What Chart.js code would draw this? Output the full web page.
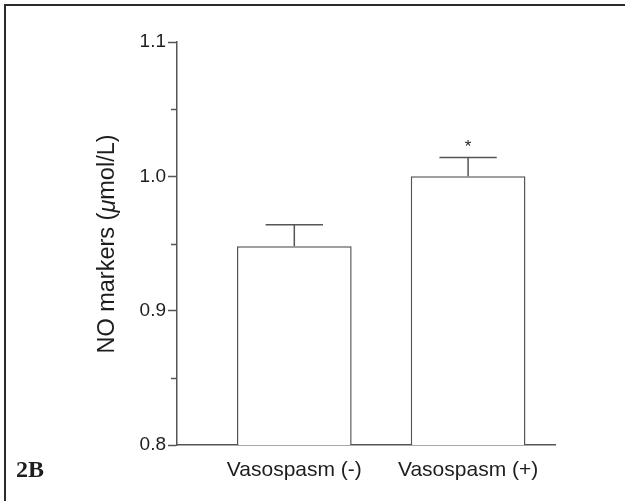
<!DOCTYPE html>
<html>
<head>
<meta charset="utf-8">
<script src="https://cdn.jsdelivr.net/npm/chart.js@4.4.1/dist/chart.umd.min.js"></script>
<style>
  html, body { margin: 0; padding: 0; background: #fff; }
  #wrap { width: 625px; height: 501px; position: relative; }
</style>
</head>
<body>
<div id="wrap"><canvas id="c" width="625" height="501"></canvas></div>
<script>
// Groups, means, error (SEM) and significance markers
const categories = ['Vasospasm (-)', 'Vasospasm (+)'];
const means = [0.948, 1.0];
const errors = [0.016, 0.014];
const significance = ['', '*'];
// Axis ticks
const majorTicks = [0.8, 0.9, 1.0, 1.1];
const minorTicks = [0.85, 0.95, 1.05];
const yTitleParts = [['NO markers (', false], ['\u03bc', true], ['mol/L)', false]];
const panelLabel = '2B';

const ink = '#1e1e1e';
const lineGray = '#555';
const sans = "'Liberation Sans', Arial, sans-serif";

const decorations = {
  id: 'decorations',
  beforeDraw(chart) {
    const ctx = chart.ctx;
    ctx.save();
    ctx.fillStyle = '#fff';
    ctx.fillRect(0, 0, chart.width, chart.height);
    // frame on top and left edges
    ctx.strokeStyle = '#2b2b2b';
    ctx.lineWidth = 2;
    ctx.beginPath();
    ctx.moveTo(chart.width, 5);
    ctx.lineTo(5, 5);
    ctx.lineTo(5, chart.height);
    ctx.stroke();
    ctx.restore();
  },
  afterDraw(chart) {
    const ctx = chart.ctx;
    const y = chart.scales.y;
    ctx.save();
    // minor ticks
    ctx.strokeStyle = lineGray;
    ctx.lineWidth = 1.5;
    minorTicks.forEach(v => {
      const py = Math.round(y.getPixelForValue(v)) + 0.5;
      ctx.beginPath();
      ctx.moveTo(y.right - 6, py);
      ctx.lineTo(y.right, py);
      ctx.stroke();
    });
    // y-axis title with italic mu
    const size = 23.5;
    ctx.fillStyle = ink;
    ctx.textBaseline = 'middle';
    const widths = yTitleParts.map(([t, it]) => {
      ctx.font = (it ? 'italic ' : '') + size + 'px ' + sans;
      return ctx.measureText(t).width;
    });
    const total = widths.reduce((a, b) => a + b, 0);
    ctx.translate(108, 244);
    ctx.rotate(-Math.PI / 2);
    let x = -total / 2;
    yTitleParts.forEach(([t, it], i) => {
      ctx.font = (it ? 'italic ' : '') + size + 'px ' + sans;
      ctx.textAlign = 'left';
      ctx.fillText(t, x, 0);
      x += widths[i];
    });
    ctx.restore();
    // panel label
    ctx.save();
    ctx.fillStyle = ink;
    ctx.font = "bold 24px 'Liberation Serif', 'Times New Roman', serif";
    ctx.textBaseline = 'alphabetic';
    ctx.textAlign = 'left';
    ctx.fillText(panelLabel, 16, 477);
    ctx.restore();
  }
};

const errorBars = {
  id: 'errorBars',
  afterDatasetsDraw(chart) {
    const ctx = chart.ctx;
    const y = chart.scales.y;
    const meta = chart.getDatasetMeta(0);
    ctx.save();
    ctx.strokeStyle = lineGray;
    ctx.lineWidth = 1.5;
    meta.data.forEach((bar, i) => {
      const top = y.getPixelForValue(means[i] + errors[i]);
      const base = y.getPixelForValue(means[i]);
      const half = bar.width / 4;
      ctx.beginPath();
      ctx.moveTo(bar.x, base);
      ctx.lineTo(bar.x, top);
      ctx.moveTo(bar.x - half, top);
      ctx.lineTo(bar.x + half, top);
      ctx.stroke();
      if (significance[i]) {
        ctx.fillStyle = ink;
        ctx.font = '17px ' + sans;
        ctx.textAlign = 'center';
        ctx.textBaseline = 'alphabetic';
        ctx.fillText(significance[i], bar.x, top - 6);
      }
    });
    ctx.restore();
  }
};

new Chart(document.getElementById('c'), {
  type: 'bar',
  data: {
    datasets: [{
      data: means.map((v, i) => ({ x: i, y: v })),
      backgroundColor: '#fff',
      borderColor: lineGray,
      borderWidth: 1.5,
      borderSkipped: 'bottom',
      categoryPercentage: 1,
      barPercentage: 0.66
    }]
  },
  options: {
    responsive: false,
    animation: false,
    layout: { padding: { left: 0, right: 70, top: 42, bottom: 0 } },
    plugins: { legend: { display: false }, tooltip: { enabled: false } },
    scales: {
      x: {
        type: 'linear',
        offset: false,
        bounds: 'data',
        min: -0.675,
        max: 1.5,
        grid: { display: false, offset: false },
        border: { display: true, color: lineGray, width: 1.5 },
        afterBuildTicks(scale) {
          scale.ticks = categories.map((_, i) => ({ value: i }));
        },
        afterFit(scale) { scale.height = 56; },
        ticks: {
          color: ink,
          font: { family: sans, size: 21 },
          padding: 5,
          maxRotation: 0,
          autoSkip: false,
          callback: v => categories[v]
        }
      },
      y: {
        min: 0.8,
        max: 1.1,
        afterBuildTicks(scale) {
          scale.ticks = majorTicks.map(v => ({ value: v }));
        },
        afterFit(scale) { scale.width = 177; },
        grid: { drawOnChartArea: false, tickLength: 9, color: lineGray, tickWidth: 1.5 },
        border: { display: true, color: lineGray, width: 1.5 },
        ticks: {
          color: ink,
          font: { family: sans, size: 19 },
          padding: 2,
          callback: v => v.toFixed(1)
        }
      }
    }
  },
  plugins: [decorations, errorBars]
});
</script>
</body>
</html>
